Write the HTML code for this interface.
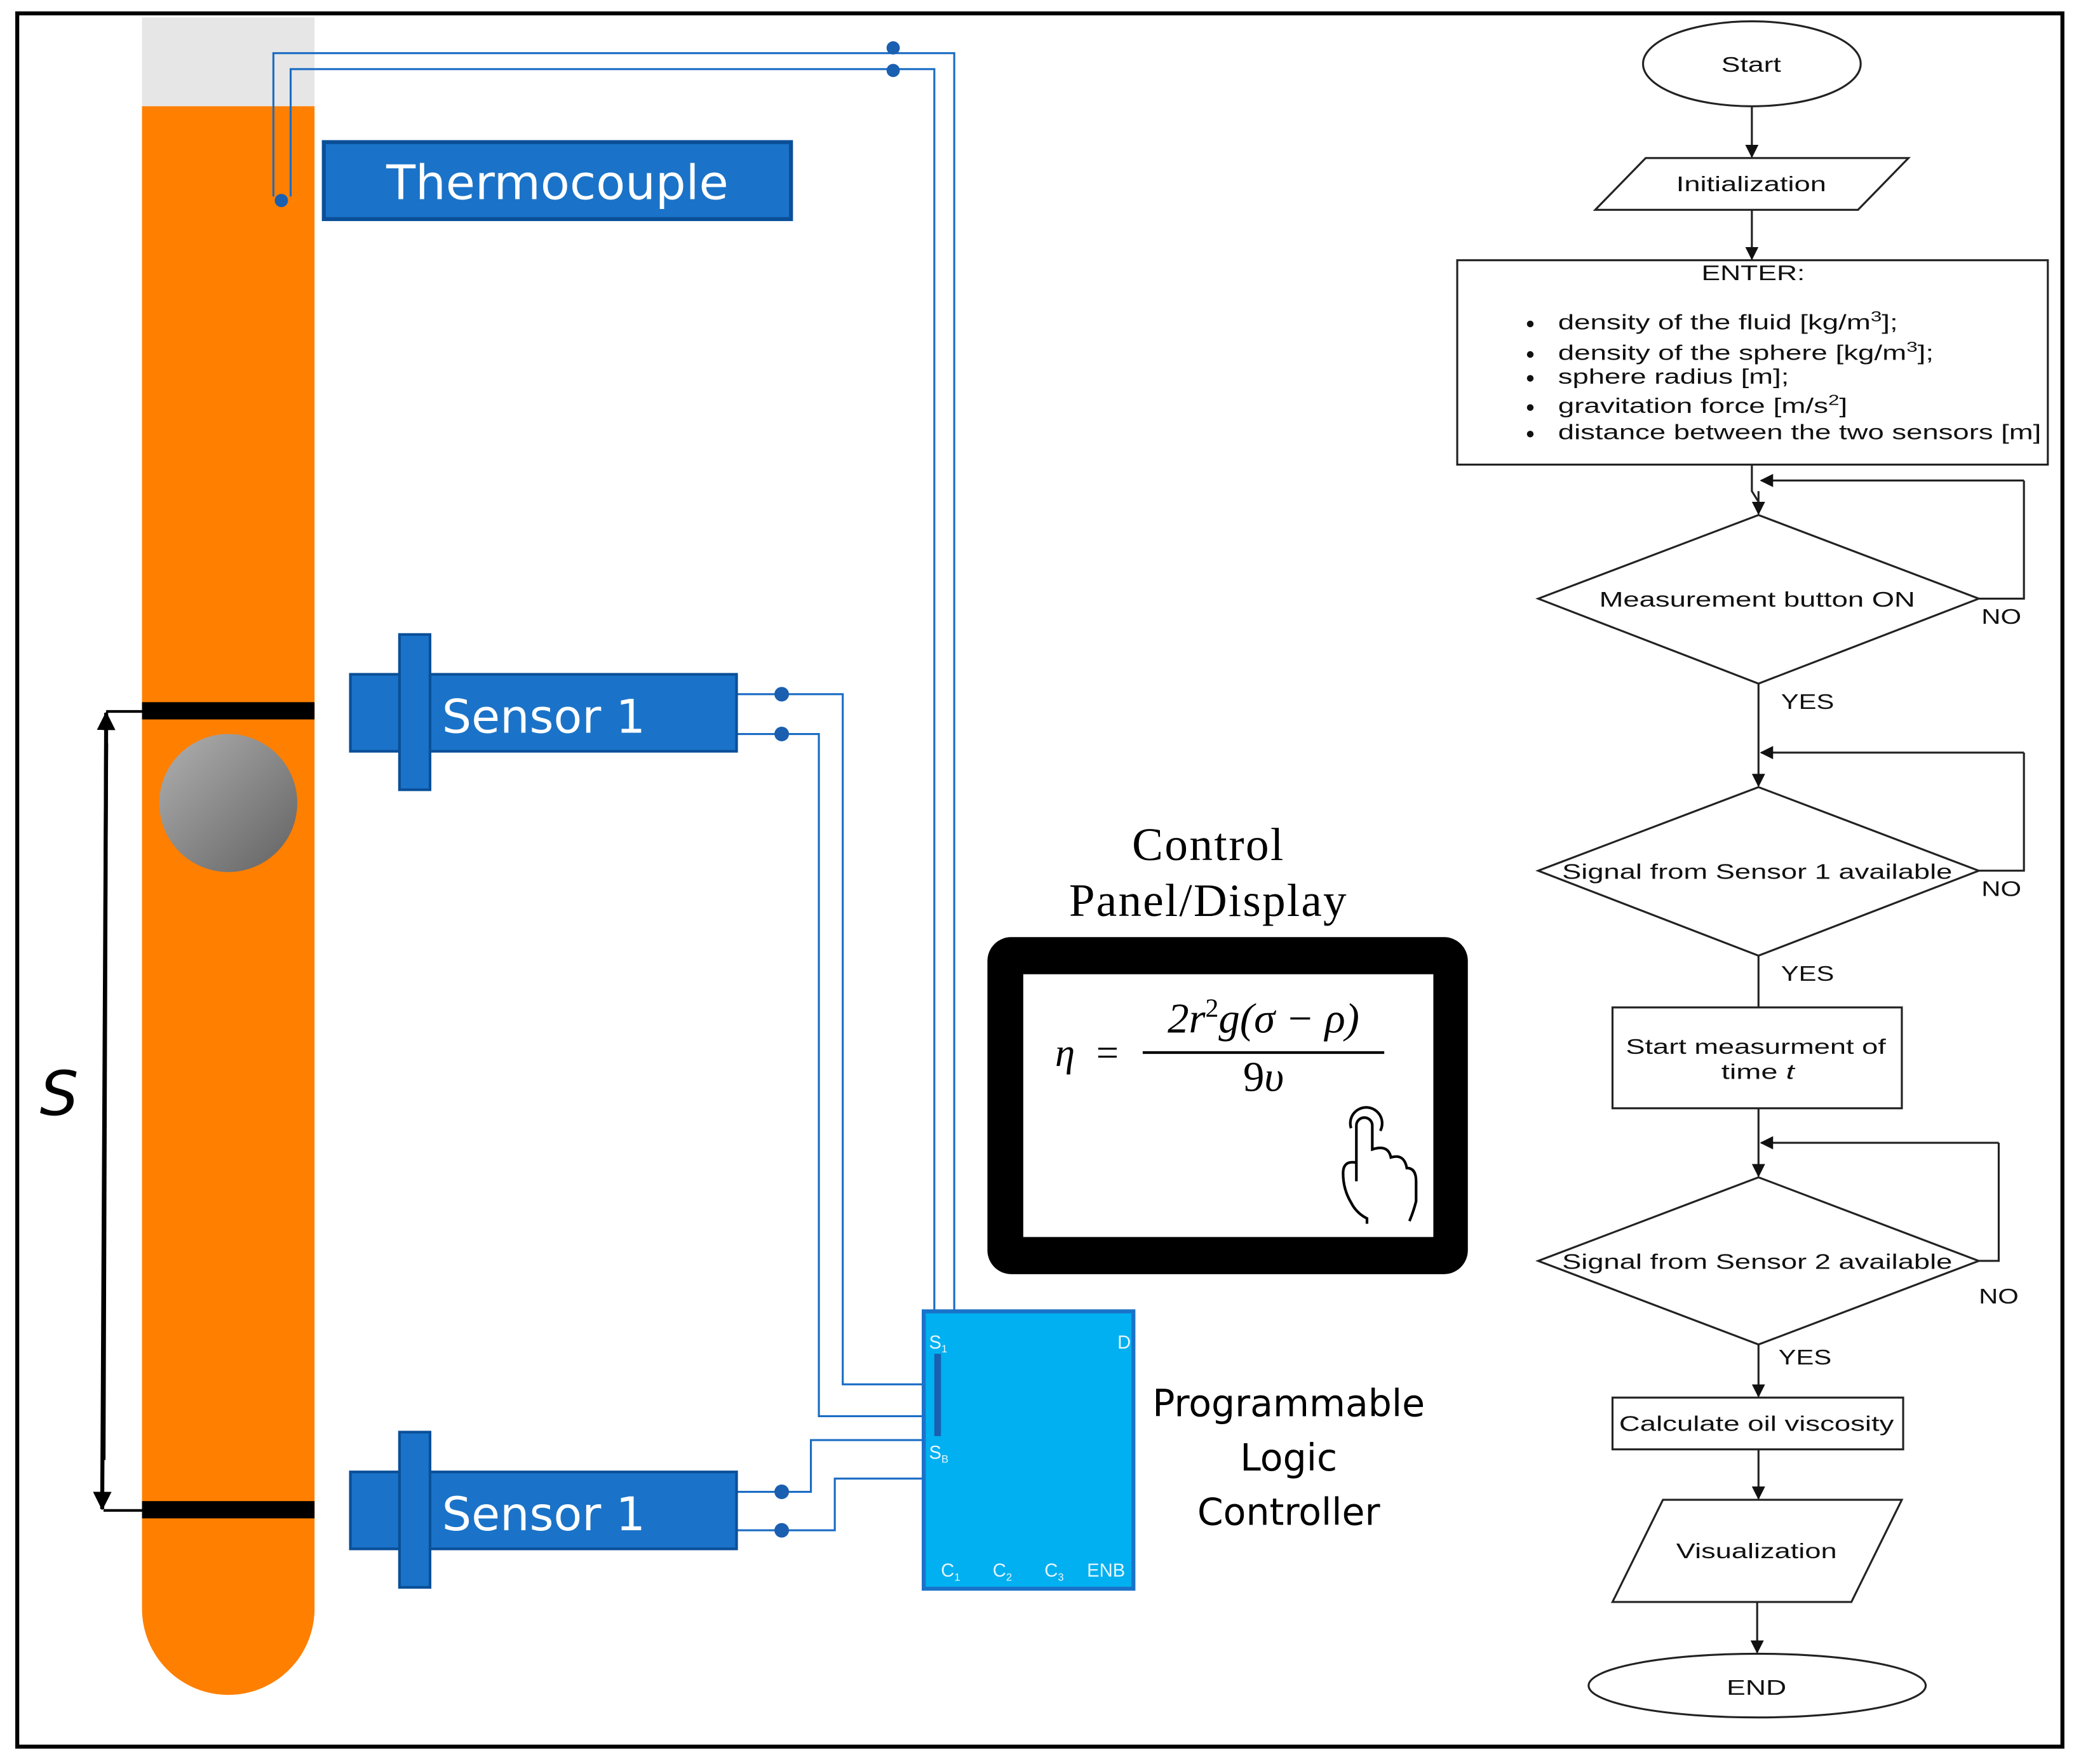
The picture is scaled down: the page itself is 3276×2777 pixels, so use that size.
<!DOCTYPE html>
<html><head><meta charset="utf-8"><style>html,body{margin:0;padding:0;background:#fff}svg{display:block}</style></head>
<body>
<svg width="3276" height="2777" viewBox="0 0 1568 1329" xmlns="http://www.w3.org/2000/svg" font-family="Liberation Sans, sans-serif">
<defs>
<linearGradient id="ball" x1="0" y1="0" x2="1" y2="1"><stop offset="0" stop-color="#b0b0b0"/><stop offset="1" stop-color="#626262"/></linearGradient>
<marker id="ah" markerWidth="10" markerHeight="10" refX="9" refY="5" orient="auto" markerUnits="userSpaceOnUse"><path d="M0,0 L10,5 L0,10 Z" fill="#111"/></marker>
<marker id="ahb" markerWidth="14" markerHeight="14" refX="13" refY="7" orient="auto" markerUnits="userSpaceOnUse"><path d="M0,0 L14,7 L0,14 Z" fill="#000"/></marker>
</defs>
<rect x="13" y="10" width="1541" height="1306" fill="#fff" stroke="#000" stroke-width="3"/>
<rect x="107" y="13" width="130" height="67" fill="#e6e6e6"/>
<path d="M107,80 H237 V1212 A65,65 0 0 1 107,1212 Z" fill="#ff7f00"/>
<rect x="107" y="529" width="130" height="13" fill="#000"/>
<rect x="107" y="1131" width="130" height="13" fill="#000"/>
<circle cx="172" cy="605" r="52" fill="url(#ball)"/>
<path d="M107,536 H80 M107,1138 H78" stroke="#000" stroke-width="2"/>
<line x1="78" y1="1100" x2="80" y2="537" stroke="#000" stroke-width="3" marker-end="url(#ahb)"/>
<line x1="80" y1="560" x2="77" y2="1137" stroke="#000" stroke-width="3" marker-end="url(#ahb)"/>
<text x="30" y="840" font-size="46" font-style="italic" font-family="DejaVu Sans, sans-serif">S</text>
<rect x="244" y="107" width="352" height="58" fill="#1a73c8" stroke="#0a4f98" stroke-width="3"/>
<text x="420" y="150" font-size="36" fill="#fff" text-anchor="middle" font-family="DejaVu Sans, sans-serif">Thermocouple</text>
<g stroke="#1a6cc4" stroke-width="1.5" fill="none">
<path d="M206,148 V40 H719 V990"/>
<path d="M219,148 V52 H704 V990"/>
<path d="M555,523 H635 V1043 H696"/>
<path d="M555,553 H617 V1067 H696"/>
<path d="M555,1124 H611 V1085 H696"/>
<path d="M555,1153 H629 V1114 H696"/>
</g>
<g fill="#1a5fb0">
<circle cx="212" cy="151" r="5"/><circle cx="673" cy="36" r="5"/><circle cx="673" cy="53" r="5"/>
<circle cx="589" cy="523" r="5.5"/><circle cx="589" cy="553" r="5.5"/>
<circle cx="589" cy="1124" r="5.5"/><circle cx="589" cy="1153" r="5.5"/>
</g>
<g fill="#1a73c8" stroke="#0a4f98" stroke-width="2">
<rect x="264" y="508" width="291" height="58"/><rect x="301" y="478" width="23" height="117"/>
<rect x="264" y="1109" width="291" height="58"/><rect x="301" y="1079" width="23" height="117"/>
</g>
<text x="333" y="552" font-size="35" fill="#fff" font-family="DejaVu Sans, sans-serif">Sensor 1</text>
<text x="333" y="1153" font-size="35" fill="#fff" font-family="DejaVu Sans, sans-serif">Sensor 1</text>
<rect x="696" y="988" width="158" height="209" fill="#00b0f0" stroke="#1a73c8" stroke-width="3"/>
<rect x="704" y="1020" width="5" height="62" fill="#1a5fb0"/>
<g fill="#e8f6ff" font-size="14">
<text x="700" y="1016">S<tspan font-size="8" dy="3">1</tspan></text>
<text x="842" y="1016">D</text>
<text x="700" y="1099">S<tspan font-size="8" dy="3">B</tspan></text>
<text x="709" y="1188">C<tspan font-size="8" dy="3">1</tspan></text>
<text x="748" y="1188">C<tspan font-size="8" dy="3">2</tspan></text>
<text x="787" y="1188">C<tspan font-size="8" dy="3">3</tspan></text>
<text x="819" y="1188">ENB</text>
</g>
<g font-size="28" text-anchor="middle" font-family="DejaVu Sans, sans-serif">
<text x="971" y="1067">Programmable</text><text x="971" y="1108">Logic</text><text x="971" y="1149">Controller</text>
</g>
<g font-size="35" text-anchor="middle" font-family="Liberation Serif, serif">
<text x="910" y="648" textLength="114">Control</text><text x="910" y="690" textLength="209">Panel/Display</text>
</g>
<rect x="744" y="706" width="362" height="254" rx="18" fill="#000"/>
<rect x="771" y="734" width="309" height="198" fill="#fff"/>
<g font-family="Liberation Serif, serif" font-style="italic">
<text x="795" y="803" font-size="30">η</text>
<text x="826" y="803" font-size="30" font-style="normal">=</text>
<text x="952" y="778" font-size="32" text-anchor="middle">2r<tspan font-size="20" dy="-12" font-style="normal">2</tspan><tspan dy="12">g(σ − ρ)</tspan></text>
<text x="952" y="822" font-size="32" text-anchor="middle"><tspan font-style="normal">9</tspan>υ</text>
</g>
<line x1="861" y1="793" x2="1043" y2="793" stroke="#000" stroke-width="2"/>
<path d="M1022,890 V848 a6,6 0 0 1 12,0 V866 q12,-4 14,6 q10,-3 12,8 q7,0 7,10 V905 q-2,8 -5,15 M1022,876 q-10,-2 -10,8 q0,12 6,22 q4,8 12,12 V922 M1018,850 a12,12 0 1 1 22,2" fill="none" stroke="#000" stroke-width="2"/>
<g fill="none" stroke="#222" stroke-width="1.5">
<ellipse cx="1320" cy="48" rx="82" ry="32"/>
<path d="M1202,158 L1240,119 L1438,119 L1400,158 Z"/>
<rect x="1098" y="196" width="445" height="154"/>
<path d="M1159,451 L1325,388 L1491,451 L1325,515 Z"/>
<path d="M1159,656 L1325,593 L1491,656 L1325,720 Z"/>
<rect x="1215" y="759" width="218" height="76"/>
<path d="M1159,950 L1325,887 L1491,950 L1325,1013 Z"/>
<rect x="1215" y="1053" width="219" height="39"/>
<path d="M1215,1207 L1253,1130 L1433,1130 L1395,1207 Z"/>
<ellipse cx="1324" cy="1270" rx="127" ry="24"/>
<path d="M1491,451 H1525 V362"/>
<path d="M1491,656 H1525 V567"/>
<path d="M1491,950 H1506 V861"/>
<path d="M1320,350 V370 L1325,378"/>
<path d="M1325,720 V759"/>
</g>
<g stroke="#222" stroke-width="1.5" marker-end="url(#ah)">
<line x1="1320" y1="80" x2="1320" y2="118"/>
<line x1="1320" y1="158" x2="1320" y2="195"/>
<line x1="1325" y1="370" x2="1325" y2="387"/>
<line x1="1525" y1="362" x2="1327" y2="362"/>
<line x1="1325" y1="515" x2="1325" y2="592"/>
<line x1="1525" y1="567" x2="1327" y2="567"/>
<line x1="1325" y1="835" x2="1325" y2="886"/>
<line x1="1506" y1="861" x2="1327" y2="861"/>
<line x1="1325" y1="1013" x2="1325" y2="1052"/>
<line x1="1325" y1="1092" x2="1325" y2="1129"/>
<line x1="1324" y1="1207" x2="1324" y2="1245"/>
</g>
<g font-size="16" fill="#111" lengthAdjust="spacingAndGlyphs">
<text x="1297" y="54" textLength="45" lengthAdjust="spacingAndGlyphs">Start</text>
<text x="1263" y="144" textLength="113" lengthAdjust="spacingAndGlyphs">Initialization</text>
<text x="1282" y="211" textLength="78" lengthAdjust="spacingAndGlyphs">ENTER:</text>
<text x="1174" y="248" textLength="256" lengthAdjust="spacingAndGlyphs">density of the fluid [kg/m<tspan font-size="11" dy="-6">3</tspan><tspan dy="6">];</tspan></text>
<text x="1174" y="271" textLength="283" lengthAdjust="spacingAndGlyphs">density of the sphere [kg/m<tspan font-size="11" dy="-6">3</tspan><tspan dy="6">];</tspan></text>
<text x="1174" y="289" textLength="174" lengthAdjust="spacingAndGlyphs">sphere radius [m];</text>
<text x="1174" y="311" textLength="218" lengthAdjust="spacingAndGlyphs">gravitation force [m/s<tspan font-size="11" dy="-6">2</tspan><tspan dy="6">]</tspan></text>
<text x="1174" y="331" textLength="364" lengthAdjust="spacingAndGlyphs">distance between the two sensors [m]</text>
<text x="1205" y="457" textLength="238" lengthAdjust="spacingAndGlyphs">Measurement button ON</text>
<text x="1177" y="662" textLength="294" lengthAdjust="spacingAndGlyphs">Signal from Sensor 1 available</text>
<text x="1177" y="956" textLength="294" lengthAdjust="spacingAndGlyphs">Signal from Sensor 2 available</text>
<text x="1225" y="794" textLength="196" lengthAdjust="spacingAndGlyphs">Start measurment of</text>
<text x="1297" y="813" textLength="55" lengthAdjust="spacingAndGlyphs">time <tspan font-style="italic">t</tspan></text>
<text x="1220" y="1078" textLength="207" lengthAdjust="spacingAndGlyphs">Calculate oil viscosity</text>
<text x="1263" y="1174" textLength="121" lengthAdjust="spacingAndGlyphs">Visualization</text>
<text x="1301" y="1277" textLength="45" lengthAdjust="spacingAndGlyphs">END</text>
<text x="1493" y="470" textLength="30" lengthAdjust="spacingAndGlyphs">NO</text><text x="1493" y="675" textLength="30" lengthAdjust="spacingAndGlyphs">NO</text><text x="1491" y="982" textLength="30" lengthAdjust="spacingAndGlyphs">NO</text>
<text x="1342" y="534" textLength="40" lengthAdjust="spacingAndGlyphs">YES</text><text x="1342" y="739" textLength="40" lengthAdjust="spacingAndGlyphs">YES</text><text x="1340" y="1028" textLength="40" lengthAdjust="spacingAndGlyphs">YES</text>
</g>
<g fill="#111"><circle cx="1153" cy="244" r="2.5"/><circle cx="1153" cy="267" r="2.5"/><circle cx="1153" cy="285" r="2.5"/><circle cx="1153" cy="307" r="2.5"/><circle cx="1153" cy="327" r="2.5"/></g>
</svg>
</body></html>
